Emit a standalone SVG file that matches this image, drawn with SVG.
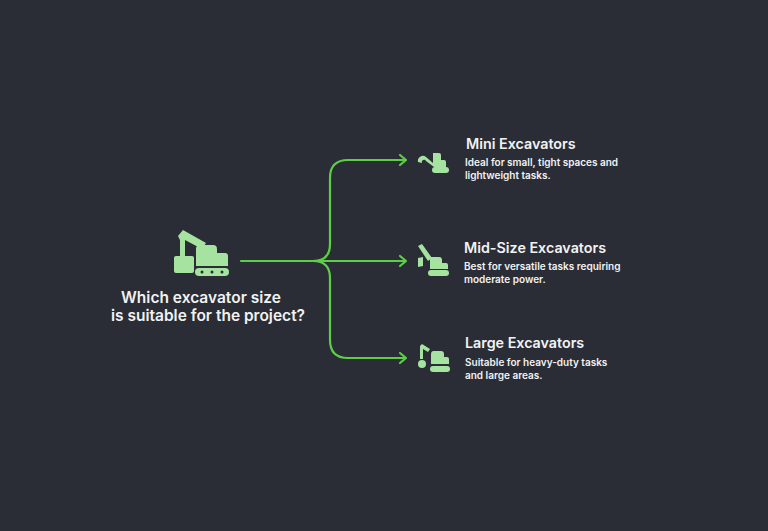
<svg xmlns="http://www.w3.org/2000/svg" width="768" height="531" viewBox="0 0 768 531">
<style>
.c{fill:none;stroke:#5ccf45;stroke-width:2.2;stroke-linecap:round;stroke-linejoin:round}
.i{fill:#a6e3a0}
.t{font-family:Inter,"Liberation Sans",sans-serif;fill:#f2f2f2}
.h{font-size:14.3px;font-weight:600}
.d{font-size:10px;font-weight:600}
.q{font-size:15.5px;font-weight:600}
</style>
<rect width="768" height="531" fill="#2a2d36"/>
<g id="connectors">
<path class="c" d="M241,261 H313"/>
<path class="c" d="M313,261 Q330,261 330,244 V178 Q330,160 348,160 H405"/>
<path class="c" d="M313,261 H405"/>
<path class="c" d="M313,261 Q330,261 330,278 V340 Q330,358 348,358 H405"/>
<path class="c" d="M400,155 L406,160 L400,165"/>
<path class="c" d="M400,256 L406,261 L400,266"/>
<path class="c" d="M400,353 L406,358 L400,363"/>
</g>
<g id="root">
<g class="i">
<polygon points="178,236 183,230 206,243 202,249 185,240 185,256 180,256 180,240"/>
<rect x="174" y="256" width="20" height="17" rx="2"/>
<path d="M199,245 h14 a4,4 0 0 1 4,4 v4 h8 a3,3 0 0 1 3,3 v10 h-32 v-17 a4,4 0 0 1 3,-4z"/>
<rect x="195" y="268" width="34" height="8" rx="4"/>
</g>
<circle cx="202" cy="272" r="1.5" fill="#2a2d36"/><circle cx="212" cy="272" r="1.5" fill="#2a2d36"/><circle cx="222" cy="272" r="1.5" fill="#2a2d36"/>
<text class="t q" x="201" y="303" text-anchor="middle">Which excavator size</text>
<text class="t q" x="208" y="321" text-anchor="middle">is suitable for the project?</text>
</g>
<g id="mini">
<g class="i">
<path d="M418,162 a5,5 0 0 1 8,-5 l7,6 v-10 h6 a2,2 0 0 1 2,2 v5 h3 a2,2 0 0 1 2,2 v5 h-12 l-8,-6 a2,2 0 0 0 -4,2z"/>
<rect x="432" y="167" width="17" height="6" rx="3"/>
</g>
<text class="t h" x="466" y="149">Mini Excavators</text>
<text class="t d" x="465" y="166">Ideal for small, tight spaces and</text>
<text class="t d" x="465" y="179">lightweight tasks.</text>
</g>
<g id="mid">
<g class="i">
<polygon points="418,246 422,244 432,258 428,261"/>
<path d="M418,258 l5,-1 v9 l-5,1z"/>
<path d="M431,257 h8 a3,3 0 0 1 3,3 v3 h4 a2,2 0 0 1 2,2 v4 h-18 v-9 a3,3 0 0 1 1,-3z"/>
<rect x="428" y="270" width="21" height="6" rx="3"/>
</g>
<text class="t h" x="464" y="253">Mid-Size Excavators</text>
<text class="t d" x="464" y="270">Best for versatile tasks requiring</text>
<text class="t d" x="464" y="283">moderate power.</text>
</g>
<g id="large">
<g class="i">
<path d="M420,346 l2,-2 l8,5 l-2,3 l-5,-3 v10 h-3z"/>
<circle cx="422" cy="364" r="4"/>
<path d="M433,351 h8 a3,3 0 0 1 3,3 v3 h3 a2,2 0 0 1 2,2 v5 h-18 v-10 a3,3 0 0 1 2,-3z"/>
<rect x="430" y="366" width="20" height="6" rx="3"/>
</g>
<text class="t h" x="465" y="348">Large Excavators</text>
<text class="t d" x="465" y="366">Suitable for heavy-duty tasks</text>
<text class="t d" x="465" y="379">and large areas.</text>
</g>
</svg>
